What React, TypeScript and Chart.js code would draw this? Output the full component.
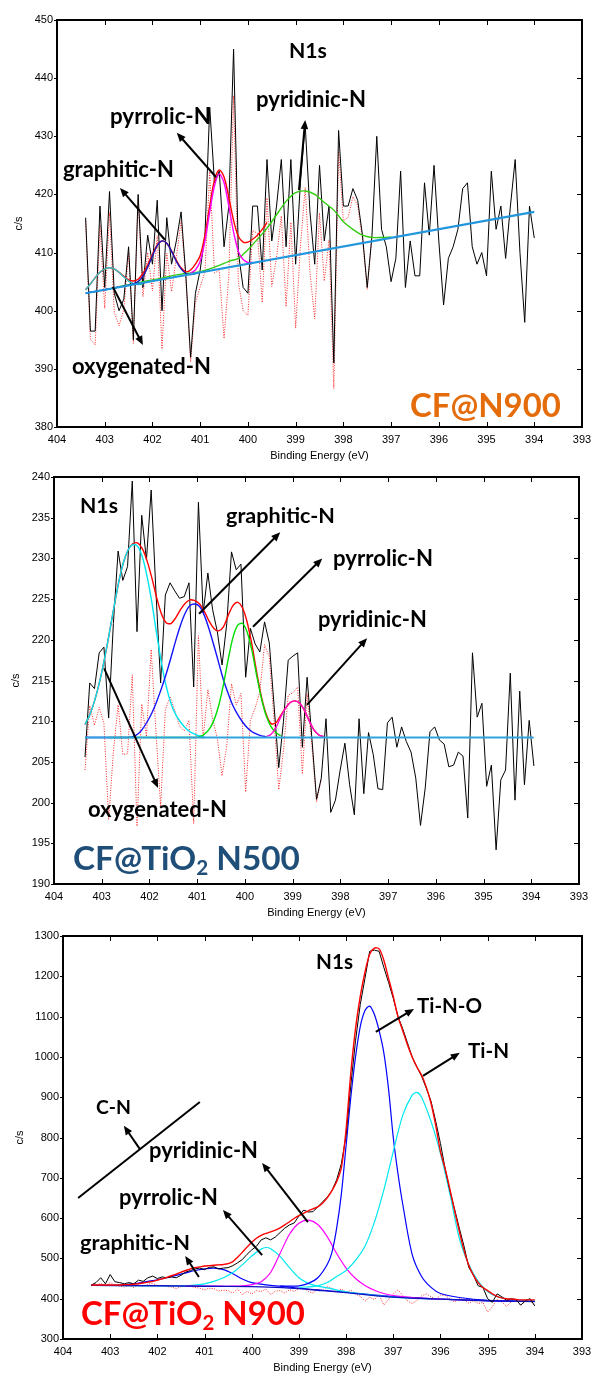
import { useEffect, useRef } from "react";
import { Chart, registerables } from "chart.js";
Chart.register(...registerables);

// ================= Panel 1 : CF@N900 =================
const p1RawStart = 403.4;
const p1RawStep = 0.1;
const p1Raw = [
  416, 396.5, 396.5, 418, 404, 420.5, 403, 400, 402, 411,
  395, 420, 404, 413, 408, 419, 400, 416, 408, 412,
  417, 406, 392, 403, 407, 413, 435, 422, 424, 411,
  418, 445, 410, 404, 403, 418, 418, 407, 426, 412,
  418, 426, 411, 426, 408, 422, 432, 417, 408, 425,
  412, 418, 391, 431, 418, 418, 421, 419, 413, 404,
  413, 430, 414, 411, 405, 409, 424, 404, 412, 406,
  406, 422, 413, 425, 412, 401, 409, 411, 414, 421,
  422, 411, 408, 410, 406, 424, 414, 418, 409, 418,
  426, 410, 398, 418, 412.5,
];
const p1Resid = [
  415.4, 395.1, 394.1, 414.8, 400.4, 416.9, 399.7, 397.4, 400.2, 410,
  394.4, 419.2, 402.4, 410, 403.4, 412.9, 393.4, 409.9, 403.3, 409.1,
  415.5, 405.4, 391.2, 401.4, 404.1, 406.7, 423.9, 406.5, 406.9, 395.2,
  405.9, 437, 404.9, 400, 399.2, 413.8, 413.3, 401.4, 419.4, 404.2,
  409.2, 416.3, 400.7, 415.2, 397, 411, 421.2, 406.7, 398.6, 416.8,
  405.1, 412.2, 386.6, 427.6, 415.4, 416.1, 419.6, 418.1, 412.4, 403.7,
  412.9,
];
const p1EnvStart = 403.4;
const p1Env = [
  403.6, 404.6, 405.7, 406.6, 407.2, 407.4, 407.2, 406.6, 405.9, 405.3,
  405.1, 405.4, 406.4, 407.9, 409.7, 411.3, 412.0, 411.6, 410.3, 408.7,
  407.4, 406.7, 407.0, 408.0, 409.5, 413.0, 418.0, 422.5, 424.2, 423.0,
  419.5, 415.5, 412.8, 411.8, 411.8, 412.3, 413.0, 414.0, 415.2,
];
const p1OxyStart = 403.4;
const p1Oxy = [403.6, 404.6, 405.7, 406.6, 407.2, 407.4, 407.2, 406.6, 405.8, 405.1, 404.7, 404.5, 404.6];
const p1GraStart = 403.4;
const p1Gra = [
  403.0, 403.2, 403.3, 403.5, 403.6, 403.8, 403.9, 404.1, 404.2, 404.4,
  404.6, 405.0, 405.9, 407.5, 409.4, 411.2, 412.0, 411.6, 410.2, 408.5,
  407.2, 406.4, 406.2, 406.4,
];
const p1PyrStart = 401.2;
const p1Pyr = [406.5, 407.0, 408.5, 412.0, 417.0, 421.5, 423.5, 422.0, 418.0, 413.5, 410.2, 408.8, 408.3, 408.3];
const p1PydStart = 402.8;
const p1PydStep = 0.2;
const p1Pyd = [
  403.9, 404.3, 404.6, 405.0, 405.3, 405.6, 406.0, 406.3, 406.5, 406.7,
  407.2, 407.8, 408.5, 409.0, 410.5, 412.3, 414.2, 416.5, 418.8, 420.3,
  420.6, 420.0, 418.6, 417.3, 415.3, 414.0, 413.0, 412.6, 412.6, 412.7,
];
const p1BgE = [403.4, 394.0];
const p1BgV = [403, 417];

// ================= Panel 2 : CF@TiO2 N500 =================
const p2RawStart = 403.35;
const p2RawStep = 0.099;
const p2Raw = [
  205.6, 214.7, 214, 218.4, 219.1, 210.4, 222, 230.9, 227.3, 229,
  239.5, 221, 235.3, 229.8, 238.4, 226, 214.7, 225.5, 227, 226,
  225.1, 225.3, 227, 214.2, 236.9, 223.3, 228.2, 223.7, 221, 216.9,
  222, 230.8, 228.6, 229.3, 215.4, 221.4, 219.5, 218.5, 222.2, 219.6,
  212, 204.3, 210, 217.5, 218, 218.4, 206.8, 215.4, 208, 200.4,
  203, 210.3, 198.8, 200.3, 204, 207.3, 202.2, 198.5, 210.3, 201.1,
  208.6, 205.9, 201.7, 201.6, 209.8, 210.5, 206.8, 209.3, 207.5, 206.2,
  203, 197.2, 201.8, 208.7, 209.3, 207.7, 207.2, 204.4, 204.6, 206.2,
  205.7, 198.1, 218.4, 210.5, 212.2, 202, 204.6, 194.2, 202.8, 204,
  215.9, 200.3, 213.7, 202.2, 210.1, 204.5,
];
const p2Resid = [
  204.0, 211.9, 209.5, 211.7, 209.7, 197.9, 206.2, 212, 205.9, 206,
  215.7, 197.1, 212.1, 208.1, 218.8, 208.8, 199.5, 211.4, 213, 211.3,
  209.4, 208.8, 210.1, 197.4, 220.5, 207.8, 213.9, 210.3, 207.9, 203.3,
  207, 214.6, 212, 213.4, 201.3, 210.1, 211.6, 213.6, 219.4, 217.9,
  210.2, 201.6, 206.4, 213.2, 213.5, 214.2, 203.5, 213.4, 207.1, 200.1,
  202.9,
];
const p2CompStep = 0.1;
const p2EnvStart = 403.35;
const p2Env = [
  209.6, 210.8, 212.5, 214.7, 217.4, 220.5, 223.8, 226.9, 229.4, 231.0,
  231.8, 231.9, 231.2, 229.7, 227.6, 225.2, 223.2, 222.1, 222.0, 222.7,
  223.7, 224.5, 224.9, 224.8, 224.4, 223.5, 222.3, 221.4, 221.1, 221.6,
  223.0, 224.2, 224.6, 223.9, 222.1, 219.3, 215.9, 212.9, 210.8, 209.7,
  209.8, 210.7, 211.6, 212.3, 212.5, 212.2, 211.3, 210.0, 208.9, 208.3,
  208.1,
];
const p2OxyStart = 403.35;
const p2Oxy = [
  209.6, 210.8, 212.5, 214.7, 217.4, 220.5, 223.8, 226.9, 229.4, 231.0,
  231.7, 231.5, 230.2, 227.8, 224.6, 220.8, 217.2, 214.3, 212.2, 210.8,
  209.9, 209.2, 208.7, 208.4, 208.2, 208.1,
];
const p2GraStart = 403.35;
const p2Gra = [
  208.0, 208.0, 208.0, 208.0, 208.0, 208.0, 208.0, 208.0, 208.0, 208.0,
  208.1, 208.4, 209.0, 209.9, 211.0, 212.4, 214.0, 215.8, 217.8, 219.9,
  221.8, 223.3, 224.2, 224.4, 224.1, 223.0, 221.3, 219.3, 217.2, 215.1,
  213.4, 211.9, 210.8, 209.9, 209.2, 208.7, 208.4, 208.2, 208.1,
];
const p2PyrStart = 402.85;
const p2Pyr = [
  208.0, 208.0, 208.0, 208.0, 208.0, 208.0, 208.0, 208.0, 208.0, 208.0,
  208.0, 208.0, 208.0, 208.0, 208.0, 208.0, 208.0, 208.0, 208.0,
  208.1, 208.4, 209.0, 210.1, 211.9, 214.5, 217.6, 220.3, 221.8, 222.0,
  220.9, 218.6, 215.5, 212.7, 210.6, 209.3, 208.6, 208.2,
];
const p2PydStart = 399.55;
const p2Pyd = [208.1, 208.4, 209.2, 210.5, 211.6, 212.3, 212.5, 212.2, 211.3, 210.0, 208.9, 208.3, 208.1];
const p2BgE = [403.35, 393.95];
const p2BgV = [208, 208];

// ================= Panel 3 : CF@TiO2 N900 =================
const p3RawStart = 403.4;
const p3RawStep = 0.1;
const p3Raw = [
  434, 440, 452, 437, 460, 442, 440, 437, 440, 437,
  446, 443, 452, 456, 450, 454, 452, 454, 452, 458,
  466, 470, 474, 476, 472, 478, 479, 474, 476, 477,
  482, 489, 497, 510, 521, 530, 546, 551, 546, 553,
  564, 575, 583, 588, 605, 620, 615, 616, 628, 640,
  652, 668, 695, 735, 805, 930, 1040, 1130, 1195, 1262,
  1265, 1262, 1222, 1185, 1145, 1100, 1070, 1035, 1000, 975,
  952, 922, 890, 840, 785, 722, 668, 622, 575, 530,
  478, 458, 432, 428, 400, 391, 412, 405, 396, 400,
  398, 384, 395, 400, 382,
];
const p3Resid = [
  432, 434, 438, 432, 440, 433, 431, 429, 432, 428,
  434, 430, 436, 438, 432, 433, 430, 429, 425, 430,
  432, 431, 428, 426, 422, 426, 425, 419, 421, 420,
  414, 424, 410, 418, 412, 420, 418, 424, 410, 419,
  420, 414, 422, 418, 425, 427, 418, 414, 424, 420,
  430, 426, 418, 424, 416, 421, 412, 406, 394, 404,
  398, 410, 384, 398, 412, 422, 408, 395, 388, 396,
  407, 412, 405, 398, 409, 408, 400, 392, 401, 397,
  389, 395, 388, 391, 367, 380, 398, 392, 381, 392,
  398, 384, 393, 396, 382,
];
const p3Env = [
  434, 434, 434, 434, 434, 434, 434, 435, 435, 436,
  437, 439, 441, 443, 446, 449, 453, 457, 461, 466,
  470, 474, 477, 479, 481, 482, 483, 484, 485, 487,
  492, 503, 515, 528, 540, 550, 557, 562, 566, 570,
  576, 583, 591, 599, 606, 612, 618, 623, 628, 637,
  650, 668, 690, 725, 820, 960, 1070, 1150, 1210, 1255,
  1270, 1268, 1240, 1195, 1150, 1100, 1065, 1030, 1000, 975,
  955, 925, 885, 830, 765, 722, 672, 618, 567, 520,
  483, 458, 440, 428, 420, 412, 406, 402, 400, 399,
  398, 397, 397, 397, 397,
];
const p3GraE = [403.4, 402.8, 402.6, 402.4, 402.2, 402.0, 401.8, 401.6, 401.4, 401.2, 401.0, 400.8, 400.6, 400.4, 400.2, 400.0, 399.8, 399.6, 399.4, 399.0, 398.5, 398.0, 397.0, 396.0, 395.0, 394.0];
const p3GraV = [433, 434, 436, 439, 443, 447, 452, 458, 464, 470, 474, 476, 472, 462, 449, 440, 436, 433, 431, 426, 421, 416, 405, 399, 395, 393];
const p3PyrE = [403.4, 402.0, 401.4, 401.2, 401.0, 400.8, 400.6, 400.4, 400.2, 400.0, 399.8, 399.7, 399.6, 399.4, 399.2, 399.0, 398.8, 398.6, 398.4, 398.0, 397.0, 396.0, 395.0, 394.0];
const p3PyrV = [433, 432, 432, 434, 437, 443, 452, 465, 484, 506, 523, 527, 524, 505, 477, 452, 438, 431, 427, 417, 404, 399, 395, 393];
const p3PydE = [401.4, 400.8, 400.4, 400.2, 400.0, 399.8, 399.6, 399.4, 399.2, 399.0, 398.8, 398.6, 398.4, 398.2, 398.0, 397.8, 397.6, 397.4, 397.2, 397.0, 396.5, 396.0, 395.0, 394.0];
const p3PydV = [431, 431, 431, 432, 435, 442, 465, 512, 560, 587, 595, 584, 554, 512, 476, 450, 433, 421, 413, 408, 402, 399, 395, 393];
const p3TiNOE = [399.4, 399.0, 398.8, 398.6, 398.4, 398.3, 398.2, 398.1, 398.0, 397.9, 397.8, 397.7, 397.6, 397.5, 397.4, 397.3, 397.2, 397.1, 397.0, 396.9, 396.8, 396.6, 396.4, 396.2, 396.0, 395.6, 395.0, 394.0];
const p3TiNOV = [431, 432, 438, 452, 485, 515, 575, 660, 780, 900, 1000, 1075, 1115, 1126, 1105, 1065, 1010, 920, 800, 710, 635, 510, 455, 428, 413, 403, 396, 393];
const p3TiNE = [399.0, 398.6, 398.4, 398.2, 398.0, 397.8, 397.6, 397.4, 397.2, 397.0, 396.8, 396.6, 396.5, 396.4, 396.2, 396.0, 395.8, 395.6, 395.4, 395.2, 395.0, 394.8, 394.5, 394.0];
const p3TiNV = [428, 432, 440, 455, 470, 495, 530, 590, 670, 765, 855, 905, 912, 900, 840, 760, 660, 550, 485, 443, 418, 405, 398, 394];
const p3BgE = [403.4, 402, 401, 400, 399.5, 399, 398.5, 398, 397.5, 397, 396.5, 396, 395, 394];
const p3BgV = [433, 432, 431, 430, 428, 425, 420, 415, 409, 404, 401, 399, 395, 393];

// ================= helpers =================
const onGrid = (start: number, step: number, vals: number[]) =>
  vals.map((y, i) => ({ x: Math.round((start - i * step) * 1000) / 1000, y }));
const paired = (es: number[], vs: number[]) => vs.map((y, i) => ({ x: es[i], y }));

const ds = (data: any[], color: string, width: number, extra: any = {}) => ({
  data,
  borderColor: color,
  backgroundColor: color,
  borderWidth: width,
  pointRadius: 0,
  tension: 0,
  fill: false,
  ...extra,
});
const smooth = { tension: 0.3 };
const dotted = { borderDash: [1, 1.5] };

const LBL_FONT = "Lato, 'Open Sans', sans-serif";
const AX_FONT = "'Liberation Sans', Arial, sans-serif";

type Part = { s: string; sub?: boolean };
type Label = { parts: Part[]; e: number; v: number; w: number; color: string };
type Arrow = { e1: number; v1: number; e2: number; v2: number; head: boolean };

const T = (s: string, e: number, v: number, w: number, color = "#000"): Label => ({ parts: [{ s }], e, v, w, color });
const A = (e1: number, v1: number, e2: number, v2: number, head = true): Arrow => ({ e1, v1, e2, v2, head });

const panels: any[] = [
  {
    key: "p1",
    top: 0,
    height: 462,
    yLeft: 57,
    padRight: 13,
    padTop: 20,
    xHeight: 35,
    ylabelX: 19,
    y: { min: 380, max: 450, step: 10 },
    datasets: [
      ds(paired(p1BgE, p1BgV), "#2196dc", 2.2),
      ds(onGrid(p1PyrStart, 0.1, p1Pyr), "#ff00ff", 1.4, smooth),
      ds(onGrid(p1GraStart, 0.1, p1Gra), "#1818b8", 1.4, smooth),
      ds(onGrid(p1OxyStart, 0.1, p1Oxy), "#35c4c4", 1.4, smooth),
      ds(onGrid(p1PydStart, p1PydStep, p1Pyd), "#33cc11", 1.4, smooth),
      ds(onGrid(p1EnvStart, 0.1, p1Env), "#ff0000", 1.4, smooth),
      ds(onGrid(p1RawStart, p1RawStep, p1Raw), "#000000", 1),
      ds(onGrid(p1RawStart, p1RawStep, p1Resid), "rgba(255,0,0,0.85)", 1, dotted),
    ],
    labels: [
      T("N1s", 399.14, 443.46, 38),
      T("pyridinic-N", 399.83, 435.04, 110),
      T("pyrrolic-N", 402.89, 432.11, 101),
      T("graphitic-N", 403.874, 423.0, 111),
      T("oxygenated-N", 403.686, 389.11, 139),
      T("CF@N900", 396.604, 381.72, 151, "#e46c0a"),
    ],
    arrows: [
      A(400.67, 423.0, 401.49, 430.6),
      A(401.74, 412.2, 402.68, 421.1),
      A(398.93, 420.76, 398.8, 432.8),
      A(402.83, 404.1, 402.2, 394.1),
    ],
  },
  {
    key: "p2",
    top: 462,
    height: 460,
    yLeft: 54,
    padRight: 16,
    padTop: 15,
    xHeight: 38,
    ylabelX: 16,
    y: { min: 190, max: 240, step: 5 },
    datasets: [
      ds(paired(p2BgE, p2BgV), "#2fa4dc", 2.2),
      ds(onGrid(p2PydStart, p2CompStep, p2Pyd), "#ff10d0", 1.4, smooth),
      ds(onGrid(p2PyrStart, p2CompStep, p2Pyr), "#00dd00", 1.4, smooth),
      ds(onGrid(p2GraStart, p2CompStep, p2Gra), "#1414ff", 1.4, smooth),
      ds(onGrid(p2OxyStart, p2CompStep, p2Oxy), "#00e5f0", 1.4, smooth),
      ds(onGrid(p2EnvStart, p2CompStep, p2Env), "#ff0000", 1.4, smooth),
      ds(onGrid(p2RawStart, p2RawStep, p2Raw), "#000000", 1),
      ds(onGrid(p2RawStart, p2RawStep, p2Resid), "rgba(255,0,0,0.85)", 1, dotted),
    ],
    labels: [
      T("N1s", 403.455, 235.58, 38),
      T("graphitic-N", 400.396, 234.35, 109),
      T("pyrrolic-N", 398.154, 229.07, 100),
      T("pyridinic-N", 398.469, 221.57, 109),
      T("oxygenated-N", 403.288, 198.23, 139),
      { parts: [{ s: "CF@TiO" }, { s: "2", sub: true }, { s: " N500" }], e: 403.602, v: 191.72, w: 227, color: "#1f4e79" },
    ],
    arrows: [
      A(400.96, 223.2, 399.26, 233.2),
      A(399.83, 221.6, 398.38, 230.0),
      A(398.7, 212.0, 397.44, 220.2),
      A(402.95, 216.5, 401.82, 201.8),
    ],
  },
  {
    key: "p3",
    top: 922,
    height: 454,
    yLeft: 63,
    padRight: 13,
    padTop: 14,
    xHeight: 37,
    ylabelX: 20,
    y: { min: 300, max: 1300, step: 100 },
    datasets: [
      ds(onGrid(p3RawStart, p3RawStep, p3Env), "#ff0000", 1.4, smooth),
      ds(onGrid(p3RawStart, p3RawStep, p3Raw), "#000000", 1),
      ds(paired(p3BgE, p3BgV), "#1010c0", 1.4, smooth),
      ds(paired(p3TiNE, p3TiNV), "#00e8f0", 1.2, smooth),
      ds(paired(p3TiNOE, p3TiNOV), "#0000ff", 1.2, smooth),
      ds(paired(p3PydE, p3PydV), "#ff00ff", 1.2, smooth),
      ds(paired(p3PyrE, p3PyrV), "#00e8f0", 1.2, smooth),
      ds(paired(p3GraE, p3GraV), "#0000ff", 1.2, smooth),
      ds(onGrid(p3RawStart, p3RawStep, p3Resid), "rgba(255,0,0,0.85)", 1, dotted),
    ],
    labels: [
      T("N1s", 398.638, 1218.1, 37),
      T("Ti-N-O", 396.497, 1109.0, 65),
      T("Ti-N", 395.416, 997.5, 41),
      T("C-N", 403.3, 858.3, 35),
      T("pyridinic-N", 402.177, 749.1, 109),
      T("pyrrolic-N", 402.813, 632.5, 99),
      T("graphitic-N", 403.64, 520.8, 110),
      { parts: [{ s: "CF@TiO" }, { s: "2", sub: true }, { s: " N900" }], e: 403.618, v: 334.7, w: 224, color: "#ff0000" },
    ],
    arrows: [
      A(397.37, 1062, 396.56, 1119),
      A(396.37, 953, 395.59, 1010),
      A(403.68, 650, 401.1, 888, false),
      A(402.37, 771, 402.71, 829),
      A(398.81, 590, 399.78, 737),
      A(399.78, 508, 400.61, 620),
      A(401.12, 454, 401.41, 506),
    ],
  },
];

function drawParts(ctx: CanvasRenderingContext2D, lbl: Label, x: number, y: number) {
  const SUB = 0.62;
  const measure = (size: number) => {
    let w = 0;
    for (const p of lbl.parts) {
      ctx.font = `bold ${p.sub ? size * SUB : size}px ${LBL_FONT}`;
      w += ctx.measureText(p.s).width;
    }
    return w;
  };
  const size = (100 * lbl.w) / measure(100);
  let cx = x;
  ctx.fillStyle = lbl.color;
  ctx.textAlign = "left";
  ctx.textBaseline = "alphabetic";
  for (const p of lbl.parts) {
    const fs = p.sub ? size * SUB : size;
    ctx.font = `bold ${fs}px ${LBL_FONT}`;
    ctx.fillText(p.s, cx, p.sub ? y + size * 0.16 : y);
    cx += ctx.measureText(p.s).width;
  }
}

function drawArrow(ctx: CanvasRenderingContext2D, x1: number, y1: number, x2: number, y2: number, head: boolean) {
  const ang = Math.atan2(y2 - y1, x2 - x1);
  const L = 9;
  const H = 3.8;
  const c = Math.cos(ang);
  const s = Math.sin(ang);
  ctx.strokeStyle = "#000";
  ctx.fillStyle = "#000";
  ctx.lineWidth = 2;
  ctx.beginPath();
  ctx.moveTo(x1, y1);
  ctx.lineTo(head ? x2 - c * L * 0.7 : x2, head ? y2 - s * L * 0.7 : y2);
  ctx.stroke();
  if (head) {
    ctx.beginPath();
    ctx.moveTo(x2, y2);
    ctx.lineTo(x2 - L * c + H * s, y2 - L * s - H * c);
    ctx.lineTo(x2 - L * c - H * s, y2 - L * s + H * c);
    ctx.closePath();
    ctx.fill();
  }
}

const makeDecor = (p: any) => ({
  id: "decor_" + p.key,
  afterDraw(chart: any) {
    const ctx: CanvasRenderingContext2D = chart.ctx;
    const a = chart.chartArea;
    const xs = chart.scales.x;
    const ys = chart.scales.y;
    ctx.save();
    ctx.strokeStyle = "#000";
    ctx.lineWidth = 1;
    ctx.beginPath();
    for (const t of xs.ticks) {
      const px = Math.round(xs.getPixelForValue(t.value)) + 0.5;
      ctx.moveTo(px, a.top);
      ctx.lineTo(px, a.top + 5);
      ctx.moveTo(px, a.bottom);
      ctx.lineTo(px, a.bottom - 5);
    }
    for (const t of ys.ticks) {
      const py = Math.round(ys.getPixelForValue(t.value)) + 0.5;
      ctx.moveTo(a.left - 3, py);
      ctx.lineTo(a.left, py);
      ctx.moveTo(a.right, py);
      ctx.lineTo(a.right - 5, py);
    }
    ctx.stroke();
    ctx.lineWidth = 2;
    ctx.strokeRect(a.left, a.top, a.right - a.left, a.bottom - a.top);

    ctx.fillStyle = "#000";
    ctx.font = `11px ${AX_FONT}`;
    ctx.textAlign = "center";
    ctx.textBaseline = "middle";
    ctx.fillText("Binding Energy (eV)", (a.left + a.right) / 2, a.bottom + 29);
    ctx.save();
    ctx.translate(p.ylabelX, (a.top + a.bottom) / 2);
    ctx.rotate(-Math.PI / 2);
    ctx.fillText("c/s", 0, 0);
    ctx.restore();

    for (const ar of p.arrows as Arrow[]) {
      drawArrow(
        ctx,
        xs.getPixelForValue(ar.e1),
        ys.getPixelForValue(ar.v1),
        xs.getPixelForValue(ar.e2),
        ys.getPixelForValue(ar.v2),
        ar.head
      );
    }
    for (const l of p.labels as Label[]) {
      drawParts(ctx, l, xs.getPixelForValue(l.e), ys.getPixelForValue(l.v));
    }
    ctx.restore();
  },
});

function Panel({ p }: { p: any }) {
  const ref = useRef<HTMLCanvasElement>(null);
  useEffect(() => {
    const canvas = ref.current!;
    const chart = new Chart(canvas, {
      type: "line",
      data: { datasets: p.datasets.map((d: any) => ({ ...d })) },
      options: {
        animation: false,
        responsive: false,
        maintainAspectRatio: false,
        devicePixelRatio: 1,
        layout: { padding: { left: 0, right: p.padRight, top: p.padTop, bottom: 0 } },
        plugins: { legend: { display: false }, tooltip: { enabled: false }, title: { display: false } },
        elements: { point: { radius: 0 } },
        scales: {
          x: {
            type: "linear",
            reverse: true,
            min: 393,
            max: 404,
            ticks: {
              stepSize: 1,
              autoSkip: false,
              maxRotation: 0,
              padding: 6,
              color: "#000",
              font: { family: AX_FONT, size: 11 },
              callback: (v: any) => String(v),
            },
            grid: { display: false, drawTicks: false },
            border: { display: false },
            afterFit: (s: any) => {
              s.height = p.xHeight;
              s.paddingLeft = 0;
              s.paddingRight = 0;
            },
          },
          y: {
            type: "linear",
            min: p.y.min,
            max: p.y.max,
            ticks: {
              stepSize: p.y.step,
              padding: 4,
              color: "#000",
              font: { family: AX_FONT, size: 11 },
              callback: (v: any) => String(v),
            },
            grid: { display: false, drawTicks: false },
            border: { display: false },
            afterFit: (s: any) => {
              s.width = p.yLeft;
              s.paddingTop = 0;
              s.paddingBottom = 0;
            },
          },
        },
      } as any,
      plugins: [makeDecor(p)],
    });
    return () => chart.destroy();
  }, []);
  return (
    <canvas
      ref={ref}
      width={595}
      height={p.height}
      style={{ position: "absolute", left: 0, top: p.top, width: 595, height: p.height, display: "block" }}
    />
  );
}

export default function App() {
  return (
    <div style={{ position: "absolute", left: 0, top: 0, width: 595, height: 1376, background: "#fff" }}>
      {panels.map((p) => (
        <Panel key={p.key} p={p} />
      ))}
    </div>
  );
}
